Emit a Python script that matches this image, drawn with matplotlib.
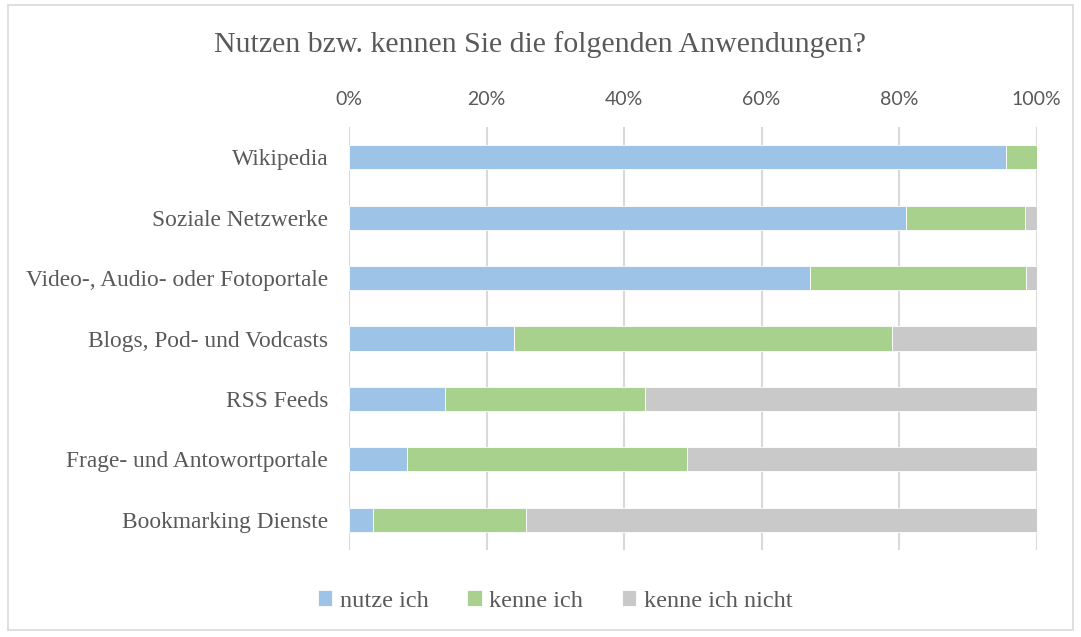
import numpy as np
import matplotlib.pyplot as plt
from matplotlib.patches import Rectangle

kategorien = ['Wikipedia', 'Soziale Netzwerke', 'Video-, Audio- oder Fotoportale',
              'Blogs, Pod- und Vodcasts', 'RSS Feeds', 'Frage- und Antowortportale',
              'Bookmarking Dienste']
nutze = [95.5, 81.0, 67.0, 24.0, 14.0, 8.5, 3.5]
kenne = [4.5, 17.3, 31.4, 55.0, 29.1, 40.6, 22.2]
kenne_nicht = [0.0, 1.7, 1.6, 21.0, 56.9, 50.9, 74.3]
serien = ['nutze ich', 'kenne ich', 'kenne ich nicht']
farben = ['#9dc3e6', '#a9d18e', '#c9c9c9']

grau = '#595959'
serif = ['Liberation Serif', 'DejaVu Serif']

fig = plt.figure(figsize=(10.81, 6.37), dpi=100)
fig.patches.append(Rectangle((8 / 1081, 7 / 637), 1065 / 1081, 625 / 637,
                             transform=fig.transFigure, fill=False,
                             edgecolor='#d9d9d9', linewidth=1.2))

ax = fig.add_axes([349 / 1081, 1 - 550 / 637, 687.5 / 1081, 423 / 637])

y = np.arange(len(kategorien))
links = np.zeros(len(kategorien))
for name, werte, farbe in zip(serien, [nutze, kenne, kenne_nicht], farben):
    ax.barh(y, werte, left=links, height=0.4, color=farbe, label=name,
            edgecolor='white', linewidth=0.6, zorder=3)
    links += np.array(werte)

ax.set_xlim(0, 100)
ax.set_ylim(len(kategorien) - 0.5, -0.5)
ax.set_xticks(np.arange(0, 101, 20))
ax.set_xticklabels([f'{v}%' for v in range(0, 101, 20)])
ax.xaxis.tick_top()
ax.set_yticks(y)
ax.set_yticklabels(kategorien, fontfamily=serif, fontsize=16.8, color=grau)
ax.tick_params(axis='x', length=0, pad=14, labelsize=14, labelcolor=grau)
ax.tick_params(axis='y', length=0, pad=15)
for lab in ax.get_xticklabels():
    lab.set_fontfamily(['Lato', 'DejaVu Sans'])
ax.grid(axis='x', color='#d9d9d9', linewidth=1.5, zorder=0)
for s in ax.spines.values():
    s.set_visible(False)

fig.text(0.5, 1 - 45 / 637, 'Nutzen bzw. kennen Sie die folgenden Anwendungen?',
         ha='center', va='center', fontsize=21.5, color=grau, fontfamily=serif)

fig.legend(loc='center', bbox_to_anchor=(555 / 1081, 1 - 601 / 637), ncol=3,
           frameon=False, prop={'family': serif, 'size': 17.5}, labelcolor=grau,
           handlelength=0.6, handleheight=0.6, handletextpad=0.3, columnspacing=1.6)

fig.savefig('out.png', dpi=100)
